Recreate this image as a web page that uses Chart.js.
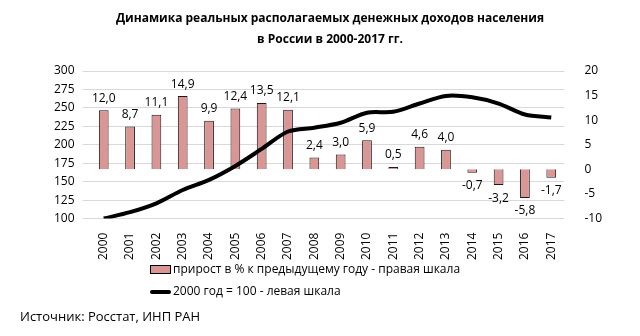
<!DOCTYPE html>
<html>
<head>
<meta charset="utf-8">
<script src="https://cdn.jsdelivr.net/npm/chart.js@4"></script>
<style>
  body { margin: 0; background: #fff; font-family: "Open Sans", sans-serif; }
  #wrap { position: relative; width: 640px; height: 336px; }
  #chart-box { position: absolute; left: 0; top: 0; width: 640px; height: 266px; }
  .leg { position: absolute; left: 150px; font-size: 12px; color: #000; line-height: 14px; }
  .leg span.sw { display: inline-block; vertical-align: middle; margin-right: 2px; }
  #src { position: absolute; left: 20px; top: 307px; font-size: 13px; color: #000; }
</style>
</head>
<body>
<div id="wrap">
  <div id="chart-box"><canvas id="grafico"></canvas></div>
  <div class="leg" style="top:262px"><span class="sw" style="width:19px;height:7px;background:#d99694;border:1px solid #000;"></span>прирост в % к предыдущему году - правая шкала</div>
  <div class="leg" style="top:284px"><span class="sw" style="width:21px;height:4px;background:#000;border-radius:2px;"></span>2000 год = 100 - левая шкала</div>
  <div id="src">Источник: Росстат, ИНП РАН</div>
</div>
<script>
const anos = ['2000','2001','2002','2003','2004','2005','2006','2007','2008','2009','2010','2011','2012','2013','2014','2015','2016','2017'];
const prirost = [12.0, 8.7, 11.1, 14.9, 9.9, 12.4, 13.5, 12.1, 2.4, 3.0, 5.9, 0.5, 4.6, 4.0, -0.7, -3.2, -5.8, -1.7];
const indeks = [100, 108.7, 120.7, 138.7, 152.4, 171.3, 194.4, 218.0, 223.2, 229.9, 243.5, 244.7, 256.0, 266.2, 264.3, 255.9, 241.1, 237.0];
const ticksLeft = [100, 125, 150, 175, 200, 225, 250, 275, 300];
const ticksRight = [-10, -5, 0, 5, 10, 15, 20];

const fonte = '"Open Sans", sans-serif';

// rótulos dos valores das barras
const rotulos = {
    id: 'rotulos',
    afterDatasetsDraw(chart) {
        const ctx = chart.ctx;
        const meta = chart.getDatasetMeta(1);
        ctx.save();
        ctx.font = '12px ' + fonte;
        ctx.fillStyle = '#000';
        ctx.textAlign = 'center';
        ctx.textBaseline = 'middle';
        meta.data.forEach((bar, i) => {
            const v = prirost[i];
            const txt = v.toFixed(1).replace('.', ',');
            const y = v >= 0 ? bar.y - 12 : bar.y + 13;
            ctx.fillText(txt, bar.x, y);
        });
        ctx.restore();
    }
};

const ctx = document.getElementById('grafico').getContext('2d');
new Chart(ctx, {
    type: 'bar',
    data: {
        labels: anos,
        datasets: [{
            type: 'line',
            data: indeks,
            yAxisID: 'y',
            borderColor: '#000',
            borderWidth: 4,
            pointRadius: 0,
            tension: 0.3,
            fill: false,
            order: 0
        }, {
            type: 'bar',
            data: prirost,
            yAxisID: 'y2',
            backgroundColor: '#d99694',
            borderColor: '#1a1a1a',
            borderWidth: 1,
            barPercentage: 0.37,
            categoryPercentage: 1,
            order: 1
        }]
    },
    options: {
        responsive: true,
        maintainAspectRatio: false,
        animation: false,
        layout: { padding: { left: 46, right: 26, top: 0, bottom: 0 } },
        scales: {
            x: {
                grid: { display: false },
                border: { display: false },
                ticks: { color: '#000', font: { family: fonte, size: 12 }, minRotation: 90, maxRotation: 90, padding: 6 }
            },
            y: {
                position: 'left',
                min: 100, max: 300,
                afterBuildTicks: (ax) => { ax.ticks = ticksLeft.map(v => ({ value: v })); },
                grid: { color: '#d9d9d9', lineWidth: 1 },
                border: { display: false },
                ticks: { color: '#000', font: { family: fonte, size: 12 }, padding: 8 }
            },
            y2: {
                position: 'right',
                min: -10, max: 20,
                afterBuildTicks: (ax) => { ax.ticks = ticksRight.map(v => ({ value: v })); },
                grid: { display: false },
                border: { display: false },
                ticks: { color: '#000', font: { family: fonte, size: 12 }, padding: 12 }
            }
        },
        plugins: {
            legend: { display: false },
            tooltip: { enabled: false },
            title: {
                display: true,
                text: ['Динамика реальных располагаемых денежных доходов населения', 'в России в 2000-2017 гг.'],
                color: '#000',
                font: { family: fonte, size: 12, weight: 'bold', lineHeight: 1.75 },
                padding: { top: 8, bottom: 21 }
            }
        }
    },
    plugins: [rotulos]
});
</script>
</body>
</html>
